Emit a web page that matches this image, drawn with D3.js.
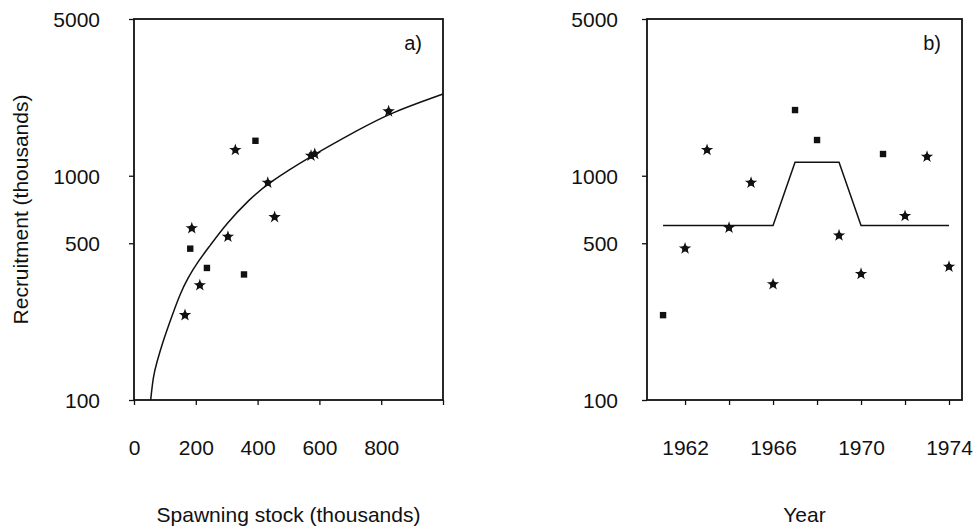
<!DOCTYPE html>
<html>
<head>
<meta charset="utf-8">
<script src="https://cdn.jsdelivr.net/npm/d3@7"></script>
<style>
  body { margin: 0; background: #fff; }
  svg text { font-family: "Liberation Sans", Arial, Helvetica, sans-serif; fill: #111; }
</style>
</head>
<body>
<div id="chart"></div>
<script>
// tick values
const recruitTicks = [100, 500, 1000, 5000];
const stockTicks = [0, 200, 400, 600, 800, 1000];
const stockLabels = [0, 200, 400, 600, 800];
const yearTicks = [1962, 1964, 1966, 1968, 1970, 1972, 1974];
const yearLabels = [1962, 1966, 1970, 1974];

// panel a) spawning stock vs recruitment (thousands)
const stockA   = [165, 187, 182, 213, 236, 304, 328, 356, 393, 433, 455, 573, 585, 824];
const recruitA = [239, 583, 473, 325, 388, 535, 1302, 363, 1432, 930, 654, 1228, 1250, 1937];
const markerA  = ['star', 'star', 'square', 'star', 'square', 'star', 'star', 'square', 'square', 'star', 'star', 'star', 'star', 'star'];

// fitted curve
const curveStock   = [54, 62, 73, 95, 122, 148, 175, 207, 245, 299, 374, 433, 573, 729, 826, 1000];
const curveRecruit = [100, 127, 146, 185, 235, 295, 352, 414, 486, 613, 786, 925, 1224, 1610, 1897, 2313];

// panel b) recruitment by year
const yearsB   = [1961, 1962, 1963, 1964, 1965, 1966, 1967, 1968, 1969, 1970, 1971, 1972, 1973, 1974];
const recruitB = [239, 474, 1302, 586, 930, 328, 1963, 1443, 542, 365, 1250, 661, 1215, 393];
const markerB  = ['square', 'star', 'star', 'star', 'star', 'star', 'square', 'square', 'star', 'star', 'square', 'star', 'star', 'star'];

// step line in panel b)
const stepYears   = [1961, 1966, 1967, 1969, 1970, 1974];
const stepRecruit = [600, 600, 1150, 1150, 600, 600];

const width = 975, height = 527;
const plotTop = 19, plotBottom = 400;

const svg = d3.select('#chart').append('svg')
    .attr('width', width)
    .attr('height', height);

const y = d3.scaleLog().domain([100, 5000]).range([plotBottom, plotTop]);
const xA = d3.scaleLinear().domain([0, 1000]).range([134, 443]);
const xB = d3.scaleLinear().domain([1960.27, 1974.59]).range([647, 962]);

const star = d3.symbol().type(d3.symbolStar).size(48);

function drawMarkers(g, xs, ys, kinds, x) {
    xs.forEach((v, i) => {
        const px = x(v), py = y(ys[i]);
        if (kinds[i] === 'square') {
            g.append('rect')
                .attr('x', px - 3.2).attr('y', py - 3.2)
                .attr('width', 6.4).attr('height', 6.4)
                .attr('fill', '#111');
        } else {
            g.append('circle')
                .attr('cx', px).attr('cy', py).attr('r', 3)
                .attr('fill', '#111');
            g.append('path')
                .attr('d', star())
                .attr('transform', `translate(${px},${py})`)
                .attr('fill', '#111');
        }
    });
}

function drawPanel(x, xTicks, xLabels, yPad, label) {
    const g = svg.append('g');
    const [x0, x1] = x.range();

    const yAxis = d3.axisLeft(y)
        .tickValues(recruitTicks)
        .tickFormat(d3.format('d'))
        .tickSize(5)
        .tickPadding(yPad);
    g.append('g')
        .attr('transform', `translate(${x0},0)`)
        .call(yAxis)
        .call(a => a.select('.domain').remove())
        .call(a => a.selectAll('text').style('font-size', '21px').attr('dy', '0.36em'));

    const xAxis = d3.axisBottom(x)
        .tickValues(xTicks)
        .tickFormat(d => xLabels.includes(d) ? d : '')
        .tickSize(5)
        .tickPadding(35);
    g.append('g')
        .attr('transform', `translate(0,${plotBottom})`)
        .call(xAxis)
        .call(a => a.select('.domain').remove())
        .call(a => a.selectAll('text').style('font-size', '21px'));

    g.selectAll('.tick line').attr('stroke', '#111').attr('stroke-width', 1.3);

    g.append('rect')
        .attr('x', x0).attr('y', plotTop)
        .attr('width', x1 - x0).attr('height', plotBottom - plotTop)
        .attr('fill', 'none')
        .attr('stroke', '#111')
        .attr('stroke-width', 1.8);

    g.append('text')
        .attr('x', x1 - 21).attr('y', 50)
        .attr('text-anchor', 'end')
        .style('font-size', '20px')
        .text(label);
    return g;
}

// panel a
const gA = drawPanel(xA, stockTicks, stockLabels, 29, 'a)');
gA.append('path')
    .datum(curveStock.map((s, i) => [s, curveRecruit[i]]))
    .attr('fill', 'none')
    .attr('stroke', '#111')
    .attr('stroke-width', 1.5)
    .attr('d', d3.line().x(d => xA(d[0])).y(d => y(d[1])).curve(d3.curveBasis));
drawMarkers(gA, stockA, recruitA, markerA, xA);

gA.append('text')
    .attr('transform', `translate(20,${(plotTop + plotBottom) / 2}) rotate(-90)`)
    .attr('text-anchor', 'middle')
    .attr('dominant-baseline', 'central')
    .style('font-size', '21px')
    .text('Recruitment (thousands)');
gA.append('text')
    .attr('x', (xA.range()[0] + xA.range()[1]) / 2)
    .attr('y', 522)
    .attr('text-anchor', 'middle')
    .style('font-size', '21px')
    .text('Spawning stock (thousands)');

// panel b
const gB = drawPanel(xB, yearTicks, yearLabels, 24, 'b)');
gB.append('path')
    .datum(stepYears.map((yr, i) => [yr, stepRecruit[i]]))
    .attr('fill', 'none')
    .attr('stroke', '#111')
    .attr('stroke-width', 1.5)
    .attr('d', d3.line().x(d => xB(d[0])).y(d => y(d[1])));
drawMarkers(gB, yearsB, recruitB, markerB, xB);

gB.append('text')
    .attr('x', (xB.range()[0] + xB.range()[1]) / 2)
    .attr('y', 522)
    .attr('text-anchor', 'middle')
    .style('font-size', '21px')
    .text('Year');
</script>
</body>
</html>
